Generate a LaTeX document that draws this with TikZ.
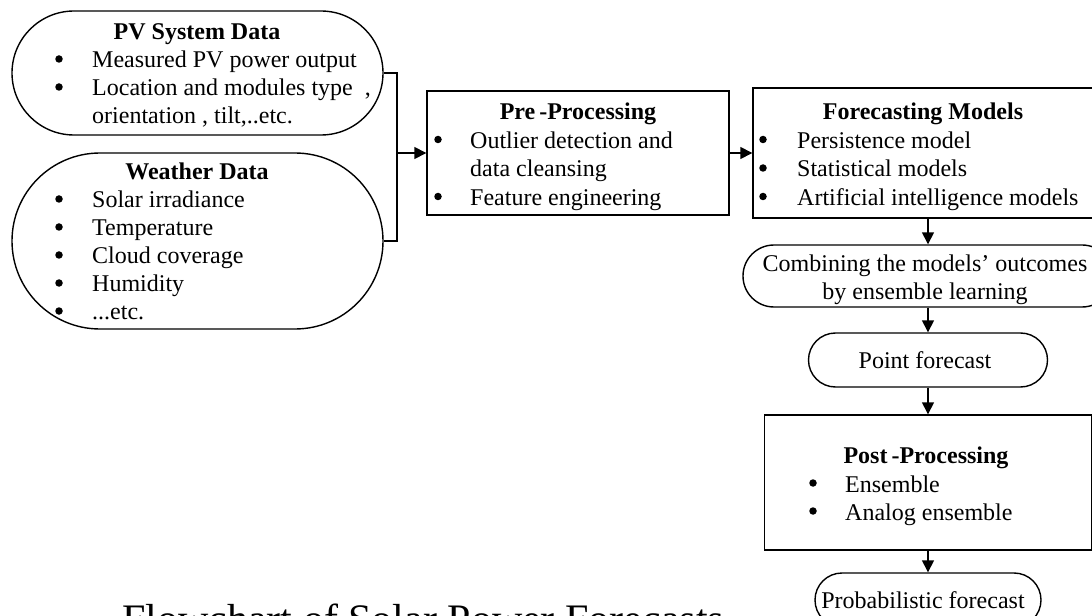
\documentclass[tikz,border=0pt]{standalone}
\usepackage{fontspec}
\setmainfont{Liberation Serif}
\usetikzlibrary{shapes.misc,arrows.meta}

\tikzset{
  outline/.style={draw, line width=1.4bp, inner sep=0pt},
  capsule/.style={outline, rounded rectangle},
  stepbox/.style={outline, rectangle},
  txt/.style={inner sep=0pt, font=\fontsize{24bp}{28bp}\selectfont},
  head/.style={txt, font=\fontsize{24bp}{28bp}\selectfont\bfseries, anchor=base},
  item/.style={txt, anchor=base west},
  dot/.style={circle, fill, inner sep=0pt, minimum size=7.5bp},
  conn/.style={line width=1.5bp},
  arr/.style={conn, -{Triangle[length=12bp,width=12bp]}},
}

% bullet line: name, bullet x, text x, baseline y, text
\newcommand{\bitem}[5]{%
  \node[dot] (#1b) at (#2,#4-9) {};
  \node[item] (#1) at (#3,#4) {#5};
}

\begin{document}
\begin{tikzpicture}[x=1bp,y=-1bp]
\useasboundingbox (0,0) rectangle (1092,616);
\clip (0,0) rectangle (1092,616);

% ---- input data ----
\node[capsule, minimum width=371bp, minimum height=124bp] (pv) at (197.5,73) {};
\node[head] (pvt) at (197,40) {PV System Data};
\bitem{pva}{59}{92}{68}{Measured PV power output}
\bitem{pvc}{59}{92}{96}{Location and modules type \ ,}
\node[item] (pvd) at (92,124) {orientation , tilt,..etc.};

\node[capsule, minimum width=371bp, minimum height=176bp] (wd) at (197.5,241) {};
\node[head] (wdt) at (197,180) {Weather Data};
\bitem{wda}{59}{92}{208}{Solar irradiance}
\bitem{wdb}{59}{92}{236}{Temperature}
\bitem{wdc}{59}{92}{264}{Cloud coverage}
\bitem{wdd}{59}{92}{292}{Humidity}
\bitem{wde}{59}{92}{320}{...etc.}

% ---- pre-processing ----
\node[stepbox, minimum width=302bp, minimum height=124bp] (pre) at (578,153) {};
\node[head] (pret) at (578,120) {Pre\,-Processing};
\bitem{prea}{438}{470}{148.5}{Outlier detection and}
\node[item] (preb) at (470,177) {data cleansing};
\bitem{prec}{438}{470}{205.5}{Feature engineering}

% ---- forecasting models ----
\node[stepbox, minimum width=350bp, minimum height=130bp] (fc) at (928,153) {};
\node[head] (fct) at (923,120) {Forecasting Models};
\bitem{fca}{763}{797}{148.5}{Persistence model}
\bitem{fcb}{763}{797}{177}{Statistical models}
\bitem{fcc}{763}{797}{205.5}{Artificial intelligence models}

% ---- ensemble and outputs ----
\node[capsule, minimum width=370bp, minimum height=62bp] (cm) at (928,276) {};
\node[txt, anchor=base] (cma) at (925,272) {Combining the models’ outcomes};
\node[txt, anchor=base] (cmb) at (925,300) {by ensemble learning};

\node[capsule, minimum width=239bp, minimum height=54bp] (pf) at (928,360) {};
\node[txt, anchor=base] (pft) at (925,368) {Point forecast};

\node[stepbox, minimum width=327bp, minimum height=135bp] (post) at (928,482.5) {};
\node[head] (postt) at (926,463) {Post\,-Processing};
\bitem{posta}{813}{845}{492}{Ensemble}
\bitem{postb}{813}{845}{520}{Analog ensemble}

\node[capsule, minimum width=226bp, minimum height=54bp] (pb) at (928,600) {};
\node[txt, anchor=base] (pbt) at (923,608) {Probabilistic forecast};

% ---- caption ----
\node[txt, font=\fontsize{42bp}{46bp}\selectfont, anchor=base west] (cap) at (122,633) {Flowchart of Solar Power Forecasts};

% ---- connectors ----
\coordinate (jt) at (397,73);
\coordinate (jm) at (397,153);
\coordinate (jb) at (397,241);
\draw[conn] (pv.east) -- (jt) -- (jb) -- (wd.east);
\draw[arr] (jm) -- (pre.west);
\draw[arr] (pre.east) -- (fc.west);
\draw[arr] (fc.south) -- (cm.north);
\draw[arr] (cm.south) -- (pf.north);
\draw[arr] (pf.south) -- (post.north);
\draw[arr] (post.south) -- (pb.north);
\end{tikzpicture}
\end{document}
